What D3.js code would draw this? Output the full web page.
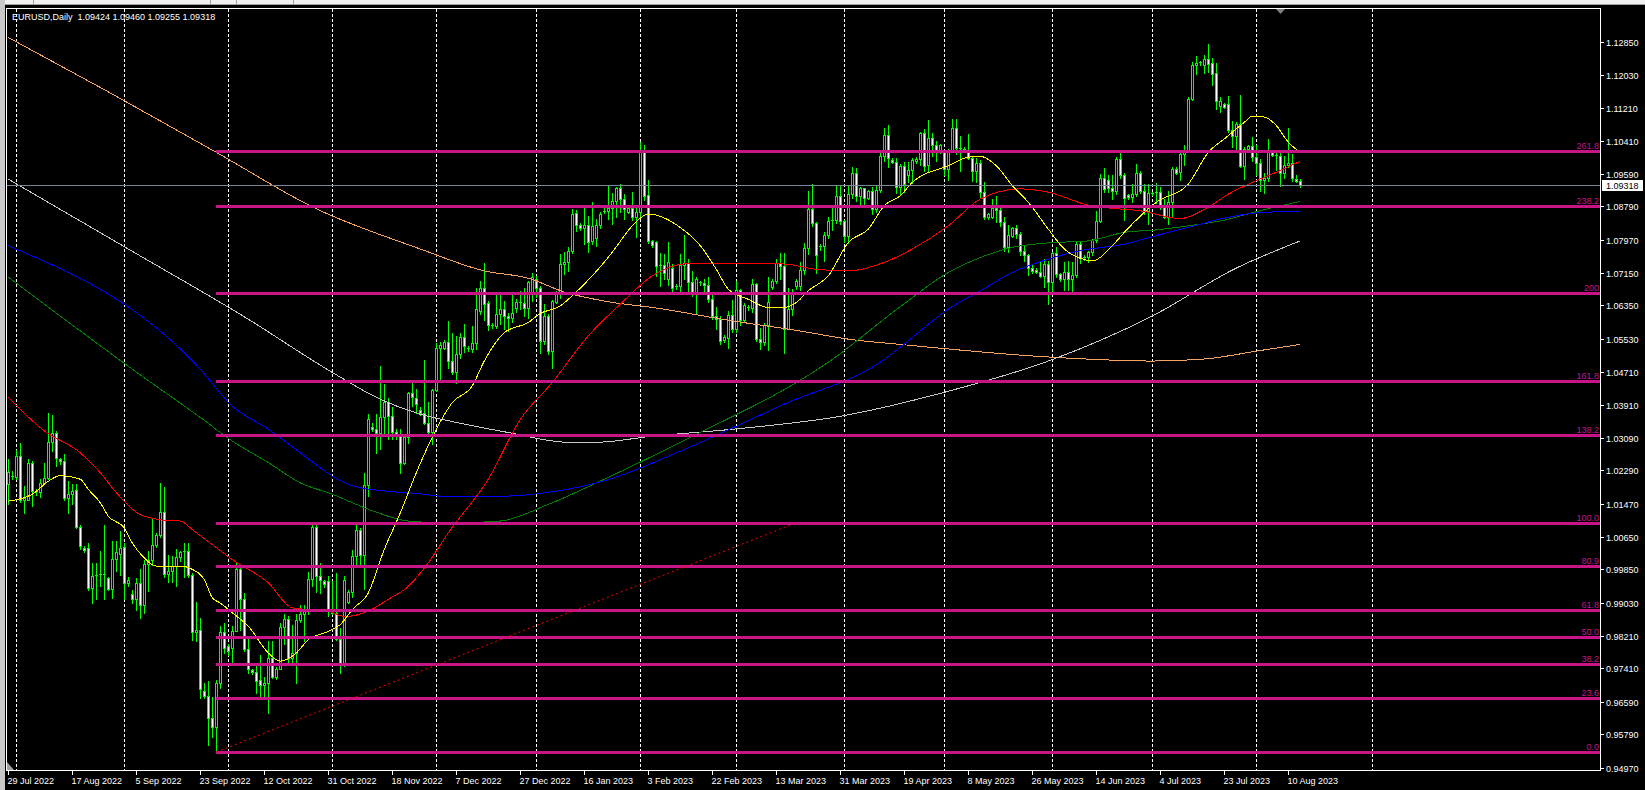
<!DOCTYPE html>
<html><head><meta charset="utf-8">
<script src="https://cdn.jsdelivr.net/npm/d3@7/dist/d3.min.js"></script>
<style>html,body{margin:0;padding:0;background:#000;overflow:hidden}svg{display:block}</style>
</head><body>
<svg id="chart" width="1645" height="790"></svg>
<script>
// ---------------- DATA ----------------
const title = "EURUSD,Daily  1.09424 1.09460 1.09255 1.09318";
const firstBarDate = "2022-07-29";
const missingBarDates = ["2022-12-25", "2023-01-01", "2023-06-18"];

const opens = [1.0195,1.0216,1.0212,1.0264,1.0157,1.0157,1.0248,1.0178,1.0175,1.0198,1.0209,1.0299,1.0322,1.0256,1.0252,1.0161,1.0170,1.0180,1.0090,1.0038,
1.0038,0.9939,0.9968,0.9970,0.9973,0.9964,0.9937,1.0011,1.0024,1.0041,0.9952,0.9925,0.9911,0.9952,0.9898,0.9997,1.0009,1.0045,1.0070,1.0126,
0.9973,0.9980,0.9993,1.0015,1.0027,1.0030,0.9972,0.9831,0.9835,0.9686,0.9672,0.9620,0.9597,0.9705,0.9831,0.9795,0.9791,0.9834,0.9985,0.9912,
0.9789,0.9736,0.9733,0.9712,0.9699,0.9705,0.9767,0.9720,0.9740,0.9843,0.9863,0.9767,0.9779,0.9861,0.9874,0.9886,0.9962,1.0090,0.9968,0.9956,
0.9956,0.9886,0.9878,0.9814,0.9750,0.9905,0.9929,1.0017,1.0083,1.0021,1.0193,1.0335,1.0330,1.0322,1.0359,1.0396,1.0363,1.0323,1.0313,1.0248,
1.0312,1.0420,1.0408,1.0377,1.0369,1.0345,1.0323,1.0426,1.0529,1.0530,1.0546,1.0499,1.0470,1.0515,1.0558,1.0530,1.0527,1.0543,1.0622,1.0679,
1.0640,1.0587,1.0585,1.0615,1.0627,1.0610,1.0603,1.0628,1.0643,1.0640,1.0628,1.0663,1.0701,1.0679,1.0548,1.0609,1.0523,1.0643,1.0665,1.0737,
1.0741,1.0768,1.0863,1.0833,1.0825,1.0833,1.0794,1.0800,1.0833,1.0868,1.0868,1.0874,1.0893,1.0924,1.0897,1.0866,1.0874,1.0852,1.0864,1.1015,
1.0907,1.0794,1.0792,1.0731,1.0734,1.0700,1.0728,1.0680,1.0683,1.0734,1.0739,1.0693,1.0667,1.0692,1.0690,1.0686,1.0651,1.0608,1.0601,1.0550,
1.0556,1.0612,1.0577,1.0673,1.0599,1.0630,1.0628,1.0688,1.0552,1.0546,1.0586,1.0680,1.0694,1.0739,1.0733,1.0578,1.0626,1.0682,1.0683,1.0723,
1.0776,1.0873,1.0838,1.0778,1.0781,1.0809,1.0842,1.0846,1.0905,1.0842,1.0807,1.0910,1.0961,1.0905,1.0923,1.0899,1.0916,1.0873,1.0920,1.1002,
1.1055,1.0994,1.0988,1.0926,1.0978,1.0955,1.0969,1.0990,1.0996,1.1059,1.0980,1.1047,1.1030,1.1013,1.1014,1.0970,1.1016,1.1071,1.1023,1.1020,
1.1018,1.0999,1.0966,1.0985,1.0915,1.0852,1.0852,1.0876,1.0870,1.0840,1.0778,1.0807,1.0825,1.0811,1.0770,1.0758,1.0726,1.0723,1.0718,1.0708,
1.0737,1.0692,1.0764,1.0712,1.0700,1.0717,1.0700,1.0710,1.0786,1.0751,1.0755,1.0766,1.0795,1.0844,1.0948,1.0945,1.0924,1.0918,1.0996,1.0957,
1.0906,1.0902,1.0910,1.0961,1.0918,1.0868,1.0912,1.0911,1.0915,1.0881,1.0854,1.0890,1.0971,1.0963,1.1008,1.1016,1.1144,1.1226,1.1232,1.1228,
1.1242,1.1232,1.1207,1.1127,1.1130,1.1130,1.1066,1.1052,1.1082,1.0979,1.1020,1.1027,1.1000,1.0985,1.0945,1.0950,1.1012,1.1006,1.1004,1.0961,
1.0981,1.0985,1.0946,1.09424];
const highs = [1.0256,1.0227,1.0280,1.0295,1.0190,1.0256,1.0252,1.0182,1.0207,1.0248,1.0371,1.0365,1.0326,1.0260,1.0270,1.0202,1.0194,1.0194,1.0095,1.0042,
1.0050,1.0001,1.0001,1.0030,1.0093,0.9966,1.0054,1.0054,1.0079,1.0050,0.9965,0.9935,0.9964,0.9985,1.0009,1.0030,1.0112,1.0075,1.0198,1.0187,
1.0020,1.0017,1.0036,1.0030,1.0050,1.0050,0.9976,0.9905,0.9865,0.9705,0.9710,0.9670,0.9713,0.9845,0.9854,0.9800,0.9845,1.0000,0.9998,0.9927,
0.9820,0.9740,0.9746,0.9775,0.9721,0.9808,0.9808,0.9745,0.9853,0.9874,0.9869,0.9847,0.9874,0.9898,0.9898,0.9978,1.0094,1.0100,1.0000,0.9960,
0.9968,0.9956,0.9977,0.9841,0.9968,0.9935,1.0033,1.0098,1.0087,1.0223,1.0367,1.0345,1.0367,1.0486,1.0441,1.0408,1.0384,1.0330,1.0330,1.0318,
1.0422,1.0450,1.0430,1.0385,1.0500,1.0396,1.0428,1.0542,1.0545,1.0550,1.0596,1.0568,1.0560,1.0568,1.0589,1.0535,1.0584,1.0679,1.0696,1.0739,
1.0646,1.0592,1.0660,1.0660,1.0646,1.0617,1.0663,1.0650,1.0670,1.0677,1.0696,1.0716,1.0708,1.0683,1.0638,1.0613,1.0648,1.0670,1.0761,1.0766,
1.0778,1.0872,1.0871,1.0838,1.0876,1.0856,1.0889,1.0848,1.0866,1.0875,1.0930,1.0913,1.0926,1.0934,1.0909,1.0878,1.0915,1.0880,1.1038,1.1029,
1.0944,1.0797,1.0794,1.0765,1.0761,1.0792,1.0737,1.0688,1.0761,1.0808,1.0749,1.0720,1.0704,1.0696,1.0700,1.0704,1.0667,1.0630,1.0610,1.0562,
1.0621,1.0648,1.0694,1.0675,1.0641,1.0635,1.0700,1.0690,1.0580,1.0591,1.0704,1.0700,1.0750,1.0763,1.0763,1.0677,1.0675,1.0700,1.0741,1.0789,
1.0918,1.0934,1.0840,1.0786,1.0815,1.0852,1.0877,1.0930,1.0929,1.0845,1.0928,1.0975,1.0973,1.0926,1.0925,1.0920,1.0926,1.0930,1.1010,1.1072,
1.1080,1.0998,1.0998,1.0984,1.0988,1.0988,1.0997,1.1000,1.1062,1.1070,1.1092,1.1059,1.1039,1.1032,1.1017,1.1020,1.1094,1.1093,1.1053,1.1025,
1.1057,1.1002,1.0999,1.0992,1.0938,1.0862,1.0896,1.0905,1.0877,1.0852,1.0832,1.0828,1.0833,1.0817,1.0782,1.0762,1.0737,1.0726,1.0745,1.0750,
1.0745,1.0766,1.0779,1.0714,1.0741,1.0745,1.0741,1.0790,1.0790,1.0758,1.0770,1.0799,1.0868,1.0959,1.0973,1.0955,1.0955,1.1000,1.1016,1.0960,
1.0910,1.0934,1.0984,1.0967,1.0934,1.0934,1.0915,1.0936,1.0926,1.0897,1.0917,1.0975,1.0976,1.1012,1.1030,1.1148,1.1234,1.1250,1.1238,1.1251,
1.1279,1.1245,1.1232,1.1148,1.1133,1.1152,1.1088,1.1086,1.1153,1.1024,1.1030,1.1049,1.1030,1.0995,1.0960,1.1045,1.1015,1.1011,1.1016,1.1004,
1.1071,1.1008,1.0955,1.09460];
const lows = [1.0145,1.0207,1.0207,1.0150,1.0125,1.0155,1.0141,1.0168,1.0162,1.0194,1.0207,1.0276,1.0240,1.0245,1.0157,1.0125,1.0145,1.0088,1.0034,1.0028,
0.9935,0.9902,0.9911,0.9945,0.9911,0.9935,0.9915,0.9981,0.9972,0.9911,0.9945,0.9902,0.9886,0.9865,0.9878,0.9931,0.9995,1.0040,1.0065,0.9966,
0.9955,0.9955,0.9945,1.0005,0.9966,0.9967,0.9810,0.9808,0.9668,0.9668,0.9553,0.9573,0.9535,0.9693,0.9779,0.9775,0.9754,0.9832,0.9836,0.9783,
0.9730,0.9728,0.9680,0.9672,0.9668,0.9631,0.9717,0.9716,0.9739,0.9800,0.9758,0.9754,0.9705,0.9855,0.9808,0.9876,0.9944,0.9928,0.9927,0.9942,
0.9870,0.9875,0.9812,0.9730,0.9746,0.9902,0.9918,0.9993,0.9995,0.9936,1.0165,1.0325,1.0272,1.0281,1.0314,1.0305,1.0305,1.0305,1.0223,1.0244,
1.0297,1.0387,1.0371,1.0365,1.0343,1.0317,1.0293,1.0424,1.0450,1.0528,1.0482,1.0466,1.0445,1.0505,1.0520,1.0522,1.0520,1.0527,1.0614,1.0600,
1.0575,1.0580,1.0580,1.0589,1.0576,1.0573,1.0593,1.0620,1.0625,1.0609,1.0605,1.0646,1.0655,1.0519,1.0540,1.0515,1.0482,1.0640,1.0654,1.0712,
1.0720,1.0765,1.0819,1.0820,1.0786,1.0766,1.0786,1.0782,1.0826,1.0862,1.0848,1.0835,1.0852,1.0864,1.0848,1.0862,1.0845,1.0803,1.0850,1.0895,
1.0788,1.0778,1.0708,1.0683,1.0700,1.0686,1.0671,1.0676,1.0668,1.0701,1.0663,1.0659,1.0614,1.0685,1.0663,1.0643,1.0602,1.0577,1.0540,1.0545,
1.0531,1.0569,1.0569,1.0586,1.0597,1.0624,1.0620,1.0548,1.0527,1.0538,1.0524,1.0675,1.0690,1.0700,1.0519,1.0576,1.0611,1.0675,1.0674,1.0713,
1.0761,1.0830,1.0716,1.0772,1.0745,1.0800,1.0820,1.0838,1.0835,1.0790,1.0788,1.0900,1.0892,1.0880,1.0880,1.0897,1.0860,1.0866,1.0914,1.0990,
1.0975,1.0985,1.0912,1.0910,1.0915,1.0938,1.0936,1.0986,1.0980,1.0967,1.0966,1.1002,1.0990,1.1010,1.0955,1.0945,1.1012,1.1008,1.0965,1.1014,
1.0996,1.0942,1.0940,1.0901,1.0848,1.0848,1.0850,1.0840,1.0830,1.0770,1.0766,1.0804,1.0800,1.0760,1.0745,1.0710,1.0715,1.0714,1.0704,1.0680,
1.0638,1.0667,1.0705,1.0695,1.0672,1.0672,1.0668,1.0705,1.0740,1.0748,1.0741,1.0760,1.0790,1.0840,1.0915,1.0915,1.0897,1.0910,1.0950,1.0845,
1.0898,1.0889,1.0905,1.0912,1.0860,1.0835,1.0908,1.0888,1.0872,1.0850,1.0835,1.0856,1.0958,1.0945,1.0980,1.1012,1.1140,1.1205,1.1228,1.1208,
1.1210,1.1177,1.1119,1.1111,1.1120,1.1062,1.1024,1.1020,1.0975,1.0947,1.1015,1.0990,1.0955,1.0918,1.0913,1.0942,1.1003,1.0968,1.0930,1.0950,
1.0975,1.0942,1.0940,1.09255];
const closes = [1.0225,1.0212,1.0264,1.0157,1.0160,1.0248,1.0178,1.0175,1.0198,1.0209,1.0299,1.0322,1.0260,1.0252,1.0161,1.0170,1.0177,1.0090,1.0042,1.0033,
0.9939,0.9968,0.9970,0.9973,0.9970,0.9937,1.0011,1.0027,1.0038,0.9952,0.9958,0.9911,0.9952,0.9898,0.9997,1.0009,1.0046,1.0070,1.0126,0.9973,
0.9980,0.9993,1.0015,1.0027,1.0030,0.9972,0.9831,0.9835,0.9690,0.9672,0.9620,0.9597,0.9705,0.9831,0.9791,0.9783,0.9834,0.9985,0.9912,0.9789,
0.9740,0.9732,0.9711,0.9699,0.9705,0.9767,0.9720,0.9740,0.9843,0.9863,0.9767,0.9779,0.9861,0.9874,0.9886,0.9962,1.0090,0.9968,0.9960,0.9948,
0.9886,0.9878,0.9814,0.9750,0.9960,0.9929,1.0017,1.0083,1.0021,1.0193,1.0355,1.0330,1.0322,1.0359,1.0396,1.0363,1.0323,1.0313,1.0248,1.0312,
1.0420,1.0410,1.0392,1.0371,1.0345,1.0323,1.0426,1.0529,1.0537,1.0546,1.0499,1.0470,1.0515,1.0558,1.0535,1.0527,1.0543,1.0626,1.0679,1.0638,
1.0587,1.0585,1.0615,1.0627,1.0609,1.0603,1.0617,1.0643,1.0640,1.0628,1.0692,1.0704,1.0679,1.0548,1.0609,1.0523,1.0646,1.0665,1.0737,1.0741,
1.0768,1.0860,1.0834,1.0825,1.0833,1.0792,1.0831,1.0833,1.0860,1.0868,1.0874,1.0893,1.0924,1.0897,1.0872,1.0874,1.0852,1.0864,1.1015,1.0905,
1.0794,1.0783,1.0731,1.0734,1.0716,1.0741,1.0679,1.0683,1.0734,1.0739,1.0693,1.0667,1.0700,1.0690,1.0686,1.0651,1.0608,1.0601,1.0548,1.0558,
1.0612,1.0577,1.0673,1.0599,1.0637,1.0628,1.0688,1.0552,1.0546,1.0586,1.0643,1.0694,1.0739,1.0733,1.0578,1.0626,1.0667,1.0694,1.0723,1.0776,
1.0873,1.0838,1.0760,1.0782,1.0809,1.0842,1.0846,1.0905,1.0844,1.0807,1.0910,1.0961,1.0905,1.0923,1.0899,1.0916,1.0873,1.0920,1.1002,1.1055,
1.0998,1.0988,1.0926,1.0978,1.0934,1.0969,1.0993,1.0996,1.1059,1.0979,1.1047,1.1030,1.1013,1.1029,1.0970,1.1016,1.1071,1.1023,1.1020,1.1018,
1.0999,1.0966,1.0985,1.0915,1.0852,1.0860,1.0876,1.0870,1.0840,1.0778,1.0809,1.0825,1.0811,1.0770,1.0758,1.0726,1.0721,1.0718,1.0708,1.0737,
1.0692,1.0764,1.0712,1.0700,1.0717,1.0700,1.0710,1.0786,1.0751,1.0755,1.0766,1.0795,1.0844,1.0948,1.0922,1.0924,1.0918,1.0996,1.0957,1.0899,
1.0902,1.0910,1.0961,1.0918,1.0868,1.0911,1.0911,1.0915,1.0881,1.0854,1.0890,1.0971,1.0961,1.1008,1.1016,1.1144,1.1228,1.1232,1.1234,1.1242,
1.1230,1.1205,1.1138,1.1138,1.1123,1.1066,1.1052,1.1082,1.0979,1.1020,1.1027,1.1000,1.0985,1.0945,1.0950,1.1012,1.1006,1.1004,1.0961,1.0981,
1.0985,1.0948,1.0942,1.09318];

// moving averages: [bar index, price]
const maYellow = [[0,1.0153],[6,1.0170],[10,1.0202],[13,1.0216],[18,1.0207],[20,1.0182],[23,1.0149],[25,1.0116],[29,1.0087],[31,1.0050],[34,1.0013],[37,0.9993],[43,0.9993],[46,0.9985],[49,0.9960],[51,0.9915],[53,0.9902],[56,0.9878],[60,0.9845],[65,0.9779],[68,0.9759],[72,0.9779],[75,0.9812],[80,0.9832],[83,0.9849],[86,0.9886],[90,0.9927],[94,1.0034],[98,1.0124],[102,1.0223],[107,1.0330],[111,1.0396],[116,1.0437],[119,1.0498],[124,1.0568],[130,1.0593],[133,1.0615],[138,1.0634],[141,1.0659],[146,1.0708],[151,1.0766],[156,1.0831],[160,1.0860],[168,1.0827],[173,1.0782],[177,1.0724],[180,1.0675],[185,1.0650],[190,1.0630],[194,1.0630],[197,1.0642],[200,1.0671],[205,1.0708],[210,1.0790],[215,1.0823],[219,1.0881],[223,1.0905],[226,1.0938],[235,1.0979],[240,1.1000],[243,1.1002],[247,1.0979],[251,1.0930],[255,1.0889],[260,1.0823],[264,1.0774],[268,1.0751],[271,1.0745],[276,1.0782],[279,1.0815],[287,1.0889],[295,1.0934],[300,1.1012],[304,1.1045],[309,1.1086],[311,1.1101],[314,1.1099],[317,1.1078],[320,1.1037],[323,1.1012]];
const maRed = [[0,1.0408],[9,1.0326],[18,1.0272],[23,1.0223],[27,1.0174],[33,1.0120],[40,1.0105],[43,1.0104],[46,1.0083],[51,1.0046],[56,1.0009],[65,0.9952],[71,0.9890],[80,0.9882],[84,0.9869],[90,0.9882],[95,0.9911],[100,0.9943],[105,1.0001],[110,1.0075],[120,1.0207],[128,1.0354],[136,1.0445],[145,1.0560],[153,1.0638],[161,1.0708],[169,1.0737],[177,1.0739],[185,1.0739],[194,1.0737],[202,1.0724],[210,1.0720],[219,1.0741],[226,1.0774],[235,1.0831],[243,1.0897],[253,1.0922],[260,1.0914],[270,1.0882],[275,1.0875],[283,1.0868],[293,1.0849],[300,1.0877],[305,1.0909],[312,1.0942],[317,1.0963],[323,1.0990]];
const maGreen = [[0,1.0705],[31,1.0478],[48,1.0359],[56,1.0301],[65,1.0248],[73,1.0198],[81,1.0170],[90,1.0133],[100,1.0104],[110,1.0099],[123,1.0104],[135,1.0145],[149,1.0207],[168,1.0298],[206,1.0502],[223,1.0632],[235,1.0716],[243,1.0753],[251,1.0778],[260,1.0789],[270,1.0794],[279,1.0815],[287,1.0821],[295,1.0831],[304,1.0845],[312,1.0866],[323,1.0891]];
const maBlue = [[0,1.0782],[48,1.0478],[56,1.0387],[65,1.0330],[73,1.0272],[81,1.0215],[85,1.0194],[94,1.0178],[102,1.0172],[110,1.0164],[123,1.0165],[133,1.0172],[150,1.0206],[168,1.0276],[194,1.0392],[219,1.0502],[223,1.0532],[235,1.0626],[243,1.0671],[251,1.0716],[260,1.0749],[268,1.0770],[279,1.0786],[287,1.0807],[295,1.0827],[304,1.0850],[312,1.0863],[323,1.0867]];
const maSilver = [[0,1.0946],[30,1.0774],[60,1.0601],[81,1.0470],[93,1.0404],[103,1.0367],[111,1.0349],[125,1.0322],[140,1.0298],[147,1.0298],[161,1.0313],[181,1.0330],[208,1.0362],[234,1.0421],[260,1.0498],[286,1.0609],[307,1.0727],[323,1.0794]];
const maOrange = [[0,1.1295],[25,1.1161],[52,1.1012],[77,1.0873],[103,1.0774],[119,1.0720],[130,1.0702],[139,1.0668],[150,1.0644],[161,1.0630],[181,1.0597],[198,1.0572],[210,1.0552],[223,1.0539],[260,1.0508],[286,1.0498],[299,1.0503],[313,1.0524],[323,1.0539]];

// Fibonacci retracement
const fibLevels = [0, 23.6, 38.2, 50, 61.8, 80.9, 100, 138.2, 161.8, 200, 238.2, 261.8];
const fibLabels = ["0.0","23.6","38.2","50.0","61.8","80.9","100.0","138.2","161.8","200","238.2","261.8"];
const fibLow = 0.9535, fibHigh = 1.0100;
const fibStartDate = "2022-09-28", fibEndDate = "2023-03-19";

const bidPrice = 1.09318;
const yTickLabels = ["1.12850","1.12030","1.11210","1.10410","1.09590","1.08790","1.07970","1.07150","1.06350","1.05530","1.04710","1.03910","1.03090","1.02290","1.01470","1.00650","0.99850","0.99030","0.98210","0.97410","0.96590","0.95790","0.94970"];
const xTickLabels = ["29 Jul 2022","17 Aug 2022","5 Sep 2022","23 Sep 2022","12 Oct 2022","31 Oct 2022","18 Nov 2022","7 Dec 2022","27 Dec 2022","16 Jan 2023","3 Feb 2023","22 Feb 2023","13 Mar 2023","31 Mar 2023","19 Apr 2023","8 May 2023","26 May 2023","14 Jun 2023","4 Jul 2023","23 Jul 2023","10 Aug 2023"];
const xTickEvery = 16;
const monthSeparators = ["2022-08-01","2022-09-01","2022-10-02","2022-11-01","2022-12-01","2023-01-02","2023-02-01","2023-03-01","2023-04-02","2023-05-01","2023-06-01","2023-07-02","2023-08-01","2023-09-01"];

// ---------------- LAYOUT ----------------
const W = 1645, H = 790;
const L = 6, T = 8, R = 1600, B = 770;
const GREEN = "#00ff00", FIB = "#c71585";
const FONT = "'Liberation Sans', Arial, sans-serif";

const n = closes.length;
// bar dates (Sun–Fri bars)
const DAY = 86400000;
const dates = [];
{
  let t = Date.parse(firstBarDate + "T00:00:00Z");
  while (dates.length < n) {
    const d = new Date(t);
    const iso = d.toISOString().slice(0, 10);
    if (d.getUTCDay() !== 6 && !missingBarDates.includes(iso)) dates.push(iso);
    t += DAY;
  }
}
function idxOf(iso) {
  const k = dates.indexOf(iso);
  if (k >= 0) return k;
  const diff = Math.round((Date.parse(iso + "T00:00:00Z") - Date.parse(dates[n - 1] + "T00:00:00Z")) / DAY);
  return n - 1 + diff;
}

const x = d3.scaleLinear().domain([0, 1]).range([8.3, 12.3]);
const y = d3.scaleLinear().domain([0.94970, 1.12850]).range([767.5, 41.5]);
const px = i => Math.floor(x(i)) + 0.5;
const py = v => Math.round(y(v)) + 0.5;

const svg = d3.select("#chart");
svg.append("rect").attr("width", W).attr("height", H).attr("fill", "#000");

// window chrome
svg.append("rect").attr("x", 0).attr("y", 0).attr("width", W).attr("height", 4).attr("fill", "#f0f0f0");
svg.append("line").attr("x1", 0).attr("x2", W).attr("y1", 4.5).attr("y2", 4.5).attr("stroke", "#a0a0a0");
[33, 210, 236, 293].forEach(v => svg.append("line").attr("x1", v + .5).attr("x2", v + .5).attr("y1", 0).attr("y2", 4).attr("stroke", "#a0a0a0"));
svg.append("rect").attr("x", 0).attr("y", 0).attr("width", 5).attr("height", H).attr("fill", "#c8c8c8");

const g = svg.append("g").attr("shape-rendering", "crispEdges");

// month separators
g.selectAll("line.sep").data(monthSeparators).join("line").attr("class", "sep")
  .attr("x1", d => px(idxOf(d))).attr("x2", d => px(idxOf(d)))
  .attr("y1", T + 1).attr("y2", B).attr("stroke", "#ffffff").attr("stroke-dasharray", "3,2");

// candles
const bars = d3.range(n);
g.selectAll("line.wick").data(bars).join("line").attr("class", "wick")
  .attr("x1", px).attr("x2", px)
  .attr("y1", i => Math.round(y(highs[i]))).attr("y2", i => Math.round(y(lows[i])) + 1)
  .attr("stroke", GREEN);
bars.forEach(i => {
  const o = opens[i], c = closes[i];
  const top = Math.round(y(Math.max(o, c))), bot = Math.round(y(Math.min(o, c)));
  const cx = px(i);
  if (bot - top < 2) {
    g.append("line").attr("x1", cx - 1.5).attr("x2", cx + 1.5).attr("y1", top + .5).attr("y2", top + .5).attr("stroke", GREEN);
  } else {
    g.append("rect").attr("x", cx - 1).attr("y", top + .5).attr("width", 2).attr("height", bot - top)
      .attr("fill", c >= o ? "#000000" : "#ffffff").attr("stroke", GREEN).attr("stroke-width", 1);
  }
});

// moving averages
const line = d3.line().x(d => x(d[0])).y(d => y(d[1])).curve(d3.curveMonotoneX);
[[maOrange, "#f4a460"], [maSilver, "#c8c8c8"], [maGreen, "#008000"], [maBlue, "#0000ff"], [maRed, "#ff0000"], [maYellow, "#ffff00"]]
  .forEach(([data, col]) => g.append("path").attr("d", line(data)).attr("fill", "none").attr("stroke", col).attr("stroke-width", 1));

// Fibonacci
const fibStartX = px(idxOf(fibStartDate));
const fibPrice = lv => fibLow + (fibHigh - fibLow) * lv / 100;
g.selectAll("line.fib").data(fibLevels).join("line").attr("class", "fib")
  .attr("x1", fibStartX - 0.5).attr("x2", R).attr("y1", d => py(fibPrice(d))).attr("y2", d => py(fibPrice(d)))
  .attr("stroke", FIB).attr("stroke-width", 3);
svg.selectAll("text.fibl").data(fibLevels).join("text").attr("class", "fibl")
  .attr("x", R - 1).attr("y", d => py(fibPrice(d)) - 2.5).attr("text-anchor", "end")
  .attr("font-family", FONT).attr("font-size", 9).attr("fill", FIB)
  .text((d, k) => fibLabels[k]);
g.append("line")
  .attr("x1", x(idxOf(fibStartDate))).attr("y1", y(fibLow))
  .attr("x2", x(idxOf(fibEndDate))).attr("y2", y(fibHigh))
  .attr("stroke", "#ff0000").attr("stroke-dasharray", "2,3").attr("shape-rendering", "auto");

// bid line
g.append("line").attr("x1", L + 1).attr("x2", R).attr("y1", py(bidPrice)).attr("y2", py(bidPrice)).attr("stroke", "#778899");

// frame
g.append("rect").attr("x", L + .5).attr("y", T + .5).attr("width", R - L).attr("height", B - T)
  .attr("fill", "none").attr("stroke", "#ffffff");

// y axis
yTickLabels.forEach(s => {
  const yy = py(+s);
  g.append("line").attr("x1", R).attr("x2", R + 4).attr("y1", yy).attr("y2", yy).attr("stroke", "#ffffff");
  svg.append("text").attr("x", R + 6).attr("y", yy).attr("dy", "0.35em").attr("font-family", FONT)
    .attr("font-size", 9).attr("fill", "#ffffff").text(s);
});
// bid label
svg.append("rect").attr("x", R + 2).attr("y", py(bidPrice) - 5.5).attr("width", 41).attr("height", 11).attr("fill", "#ffffff");
svg.append("text").attr("x", R + 6).attr("y", py(bidPrice)).attr("dy", "0.35em").attr("font-family", FONT)
  .attr("font-size", 9).attr("fill", "#000000").text(bidPrice.toFixed(5));

// x axis
xTickLabels.forEach((s, k) => {
  const xx = px(k * xTickEvery);
  g.append("line").attr("x1", xx).attr("x2", xx).attr("y1", B).attr("y2", B + 5).attr("stroke", "#ffffff");
  svg.append("text").attr("x", xx - 1).attr("y", B + 14).attr("font-family", FONT)
    .attr("font-size", 9).attr("fill", "#ffffff").text(s);
});

// title
svg.append("text").attr("x", 12).attr("y", 20).attr("font-family", FONT).attr("font-size", 9)
  .attr("fill", "#ffffff").attr("xml:space", "preserve").style("white-space", "pre").text(title);

// chart shift marker and scale-fix corner
svg.append("path").attr("d", "M1276,9L1285,9L1280.5,14Z").attr("fill", "#808080");
svg.append("path").attr("d", "M7,762L7,770L14,770Z").attr("fill", "#a0a0a0");
</script>
</body></html>
